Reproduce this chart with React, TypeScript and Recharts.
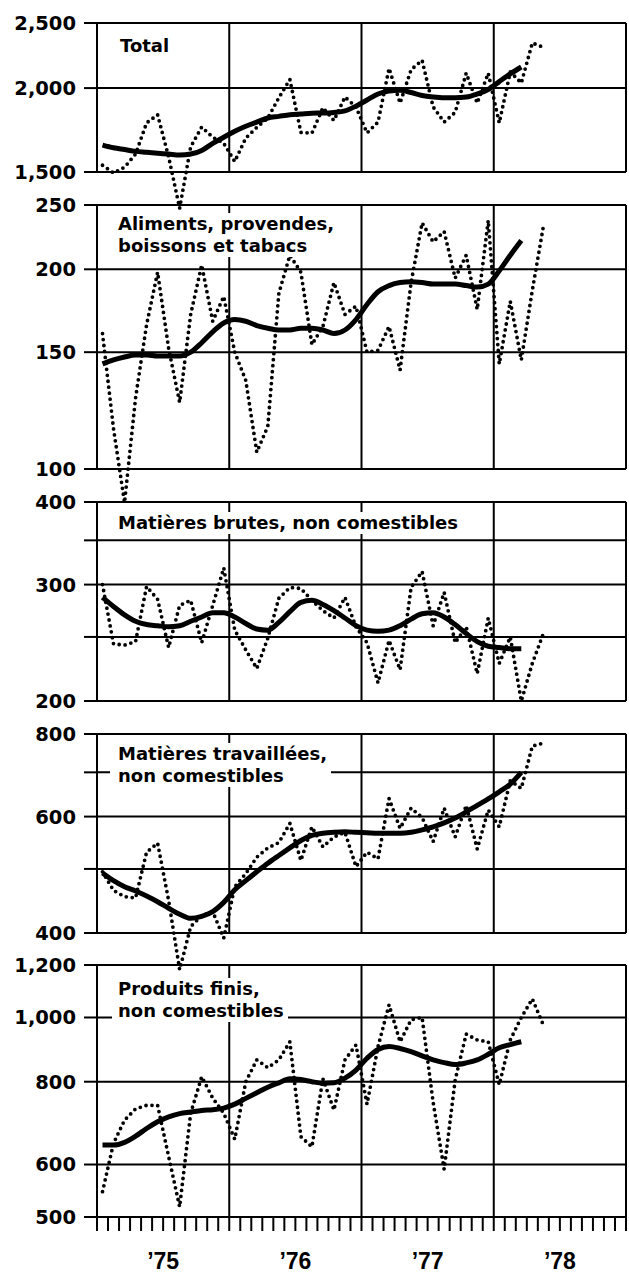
import { LineChart, Line, XAxis, YAxis, ReferenceLine } from 'recharts'

// month index 0 = Jan 1975 (log scales)
const yearLabels = ['’75', '’76', '’77', '’78']
const yearLabelMonths = [6, 18, 30, 42]
const yearBoundaries = [12, 24, 36]
const monthBoundaries = [
  0, 1, 2, 3, 4, 5, 6, 7, 8, 9, 10, 11, 12, 13, 14, 15, 16, 17, 18, 19, 20, 21, 22, 23, 24,
  25, 26, 27, 28, 29, 30, 31, 32, 33, 34, 35, 36, 37, 38, 39, 40, 41, 42, 43, 44, 45, 46, 47, 48,
]

const totalMonthly = [
  1535, 1495, 1525, 1595, 1775, 1825, 1580, 1325, 1635, 1750, 1690, 1655, 1555, 1685, 1748, 1805,
  1935, 2060, 1718, 1714, 1870, 1790, 1940, 1875, 1715, 1780, 2140, 1900, 2130, 2200, 1875, 1780,
  1840, 2105, 1900, 2105, 1775, 2115, 2035, 2335, 2300,
]
const totalTrend = [
  1645, 1630, 1620, 1610, 1605, 1600, 1595, 1590, 1595, 1615, 1655, 1690, 1725, 1755, 1780, 1805,
  1815, 1825, 1830, 1835, 1836, 1840, 1850, 1880, 1920, 1960, 1980, 1985, 1970, 1950, 1940, 1935,
  1935, 1940, 1960, 1990, 2045, 2100, 2150,
]

const alimentsMonthly = [
  160, 115, 89, 128, 165, 198, 152, 126, 171, 203, 167, 182, 150, 136, 106, 116, 184, 210, 198, 154,
  164, 191, 171, 176, 150, 151, 164, 141, 191, 235, 220, 228, 194, 210, 174, 237, 144, 179, 146, 186,
  232,
]
const alimentsTrend = [
  144, 146, 147.5, 148.5, 148.5, 148, 148, 148, 150, 155, 161, 166, 168, 167, 164.5, 163, 162, 162,
  163, 163, 162, 160, 162, 168, 177, 185, 189, 191, 191.5, 191, 190, 190, 190, 189, 188, 190, 199, 210,
  221,
]

const brutesMonthly = [
  300, 244, 243, 246, 298, 285, 241, 279, 284, 245, 279, 318, 256, 239, 224, 249, 286, 297, 296, 284,
  274, 267, 287, 259, 245, 213, 247, 223, 297, 314, 260, 292, 245, 259, 220, 267, 228, 250, 200, 228,
  253,
]
const brutesTrend = [
  287, 278, 270, 264, 261, 260, 259, 260, 264, 268, 272, 272, 268, 262, 257, 256, 263, 273, 282, 284,
  280, 274, 267, 260, 256, 255, 256, 260, 266, 271, 272, 268, 261, 253, 246, 242, 241, 240, 240,
]

const travailleesMonthly = [
  495, 464, 454, 452, 530, 547, 448, 352, 409, 425, 431, 393, 470, 492, 521, 538, 548, 586, 515, 579,
  540, 559, 568, 504, 530, 518, 639, 576, 618, 598, 550, 618, 559, 624, 536, 614, 579, 680, 662, 767,
  775,
]
const travailleesTrend = [
  493, 480, 470, 463, 455, 446, 436, 427, 421, 424, 431, 445, 465, 480, 495, 510, 524, 538, 552, 562,
  566, 568, 569, 568, 567, 566, 566, 566, 568, 573, 579, 587, 597, 610, 624, 638, 654, 672, 700,
]

const finisMonthly = [
  546, 646, 700, 728, 737, 737, 617, 518, 717, 814, 756, 717, 655, 800, 863, 840, 863, 919, 661, 638,
  808, 725, 863, 909, 740, 904, 1045, 919, 992, 1000, 745, 590, 805, 944, 925, 919, 792, 925, 1000,
  1067, 974,
]
const finisTrend = [
  642, 642, 648, 662, 680, 696, 708, 716, 720, 724, 726, 730, 740, 755, 770, 785, 797, 808, 806, 800,
  796, 797, 810, 833, 868, 895, 904, 898, 888, 875, 863, 855, 849, 854, 863, 880, 900, 910, 919,
]

const INK = '#000'
const FONT = '"DejaVu Sans", sans-serif'
const WIDTH = 629

const panels = [
  {
    key: 'total',
    title: ['Total'],
    titleLeft: 114,
    monthly: totalMonthly,
    trend: totalTrend,
    ticks: [1500, 2000, 2500],
    tickLabels: ['1,500', '2,000', '2,500'],
    frameTop: 23,
    frameBottom: 172,
    padTop: 12,
    padBottom: 45,
    titleTop: 35,
  },
  {
    key: 'aliments',
    title: ['Aliments, provendes,', 'boissons et tabacs'],
    titleLeft: 112,
    monthly: alimentsMonthly,
    trend: alimentsTrend,
    ticks: [100, 150, 200, 250],
    tickLabels: ['100', '150', '200', '250'],
    frameTop: 205,
    frameBottom: 469,
    padTop: 12,
    padBottom: 45,
    titleTop: 213,
  },
  {
    key: 'brutes',
    title: ['Matières brutes, non comestibles'],
    titleLeft: 112,
    monthly: brutesMonthly,
    trend: brutesTrend,
    ticks: [200, 250, 300, 350, 400],
    tickLabels: ['200', '', '300', '', '400'],
    frameTop: 502,
    frameBottom: 701,
    padTop: 12,
    padBottom: 20,
    titleTop: 512,
  },
  {
    key: 'travaillees',
    title: ['Matières travaillées,', 'non comestibles'],
    titleLeft: 110,
    monthly: travailleesMonthly,
    trend: travailleesTrend,
    ticks: [400, 500, 600, 700, 800],
    tickLabels: ['400', '', '600', '', '800'],
    frameTop: 734,
    frameBottom: 933,
    padTop: 12,
    padBottom: 50,
    titleTop: 743,
  },
  {
    key: 'finis',
    title: ['Produits finis,', 'non comestibles'],
    titleLeft: 112,
    monthly: finisMonthly,
    trend: finisTrend,
    ticks: [500, 600, 800, 1000, 1200],
    tickLabels: ['500', '600', '800', '1,000', '1,200'],
    frameTop: 965,
    frameBottom: 1217,
    padTop: 12,
    padBottom: 0,
    titleTop: 978,
    showMonths: true,
  },
]

type PanelCfg = (typeof panels)[number]

function Panel({ cfg }: { cfg: PanelCfg }) {
  const { frameTop, frameBottom, padTop, padBottom } = cfg
  const lo = cfg.ticks[0]
  const hi = cfg.ticks[cfg.ticks.length - 1]
  const k = (frameBottom - frameTop) / Math.log(hi / lo)
  const domain = [lo * Math.exp(-padBottom / k), hi * Math.exp(padTop / k)]
  const xAxisHeight = cfg.showMonths ? 56 : 0
  const height = frameBottom - frameTop + padTop + padBottom + xAxisHeight

  const data = cfg.monthly.map((v, i) => ({
    m: i + 0.5,
    monthly: v,
    trend: i < cfg.trend.length ? cfg.trend[i] : null,
  }))

  const line = { stroke: INK, strokeWidth: 2 }
  const frame = (x: number) => (
    <ReferenceLine
      key={`v-${x}`}
      segment={[
        { x, y: lo },
        { x, y: hi },
      ]}
      stroke={INK}
      strokeWidth={2}
    />
  )

  return (
    <div style={{ position: 'absolute', left: 0, top: frameTop - padTop }}>
      <LineChart
        width={WIDTH}
        height={height}
        data={data}
        margin={{ top: 0, right: 3, bottom: 0, left: 0 }}
      >
        <XAxis
          type="number"
          dataKey="m"
          domain={[0, 48]}
          allowDataOverflow
          ticks={monthBoundaries}
          interval={0}
          hide={!cfg.showMonths}
          height={xAxisHeight}
          tickSize={14}
          tickMargin={22}
          axisLine={line}
          tickLine={line}
          tick={{
            fill: INK,
            fontFamily: '"Liberation Sans", Arial, sans-serif',
            fontWeight: 700,
            fontSize: 23,
          }}
          tickFormatter={(v: number) => {
            const idx = yearLabelMonths.indexOf(v)
            return idx >= 0 ? yearLabels[idx] : ''
          }}
        />
        <YAxis
          type="number"
          scale="log"
          domain={domain}
          allowDataOverflow
          ticks={cfg.ticks}
          interval={0}
          width={97}
          tickSize={13}
          tickMargin={8}
          axisLine={false}
          tickLine={line}
          tick={{ fill: INK, fontFamily: FONT, fontWeight: 700, fontSize: 19.5 }}
          tickFormatter={(v: number) => cfg.tickLabels[cfg.ticks.indexOf(v)] ?? ''}
        />
        {cfg.ticks.map((t) => (
          <ReferenceLine key={`h-${t}`} y={t} stroke={INK} strokeWidth={2} />
        ))}
        {frame(0)}
        {yearBoundaries.map((x) => frame(x))}
        {frame(48)}
        <Line
          type="linear"
          dataKey="monthly"
          stroke={INK}
          strokeWidth={3.8}
          strokeDasharray="0 6"
          strokeLinecap="round"
          dot={false}
          isAnimationActive={false}
        />
        <Line
          type="monotone"
          dataKey="trend"
          stroke={INK}
          strokeWidth={5}
          dot={false}
          isAnimationActive={false}
        />
      </LineChart>
    </div>
  )
}

export default function App() {
  return (
    <div
      style={{
        position: 'absolute',
        left: 0,
        top: 0,
        width: WIDTH,
        height: 1273,
        background: '#fff',
        overflow: 'hidden',
      }}
    >
      {panels.map((p) => (
        <Panel key={p.key} cfg={p} />
      ))}
      {panels.map((p) => (
        <div
          key={`t-${p.key}`}
          style={{
            position: 'absolute',
            left: p.titleLeft,
            top: p.titleTop,
            padding: `0 4px 0 ${118 - p.titleLeft + (p.key === 'total' ? 2 : 0)}px`,
            background: '#fff',
            fontFamily: FONT,
            fontWeight: 700,
            fontSize: 18,
            lineHeight: '22px',
            color: INK,
            whiteSpace: 'nowrap',
          }}
        >
          {p.title.map((t) => (
            <div key={t}>{t}</div>
          ))}
        </div>
      ))}
    </div>
  )
}
